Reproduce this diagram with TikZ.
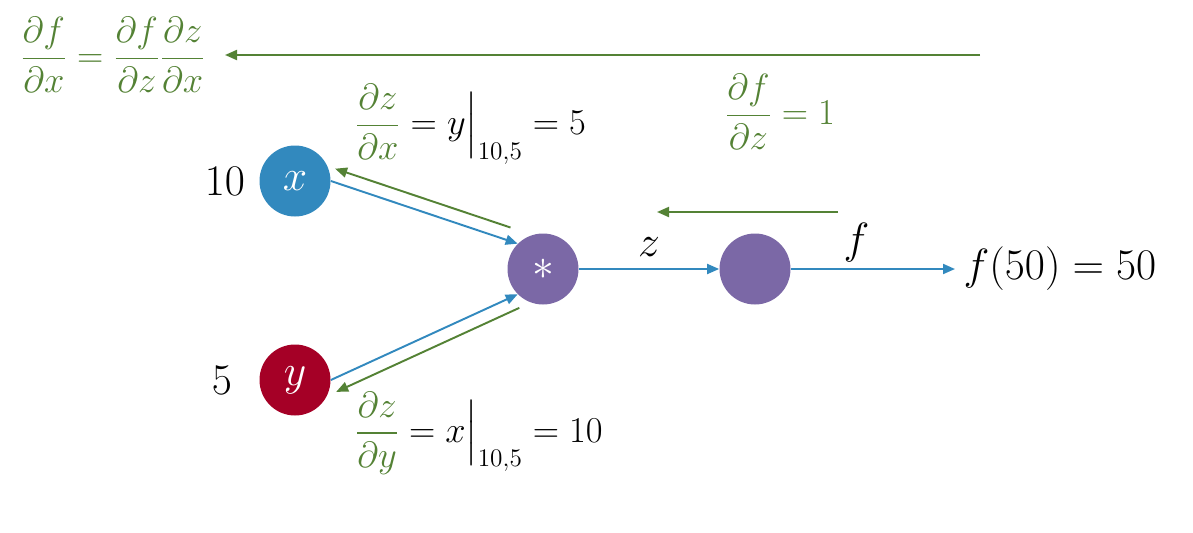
\documentclass[tikz,border=0pt]{standalone}
\usepackage{amsmath}
\usetikzlibrary{arrows.meta,positioning}
\definecolor{xblue}{RGB}{50,137,190}
\definecolor{opviolet}{RGB}{123,104,166}
\definecolor{yred}{RGB}{165,0,38}
\definecolor{gradgreen}{RGB}{84,130,53}
\tikzset{
  var/.style={circle, minimum size=1.42cm, inner sep=0pt, text=white},
  fwd/.style={xblue, line width=1.1pt, -{Triangle[length=0.24cm,width=0.2cm]}},
  bwd/.style={gradgreen, line width=1.1pt, -{Triangle[length=0.24cm,width=0.2cm]}},
  lbl/.style={text=black},
  grad/.style={font=\fontsize{22}{26}\selectfont},
}

\begin{document}
\begin{tikzpicture}[font=\fontsize{24}{28}\selectfont, line join=round]
\useasboundingbox (0,0) rectangle (23.86,10.64);
% graph nodes
\node[var, fill=xblue] (x) at (5.9,7.02) {$x$};
\node[var, fill=yred] (y) at (5.9,3.04) {$y$};
\node[var, fill=opviolet] (mul) at (10.86,5.26) {$*$};
\node[var, fill=opviolet] (f) at (15.1,5.26) {};
\coordinate (out) at (19.1,5.26);
\node[left=0.16cm of x] (xval) {$10$};
\node[left=0.42cm of y] (yval) {$5$};
\node[right=0.05cm of out] (res) {$f(50)=50$};

% forward pass
\draw[fwd] (x.east) -- (mul.north west);
\draw[fwd] (y.east) -- (mul.south west);
\draw[fwd] (mul) -- (f) node[lbl, midway, above=3pt]{$z$};
\draw[fwd] (f) -- (out) node[lbl, pos=0.4, above=0pt]{$f$};

% backward pass
\draw[bwd, shorten <=0.24cm] ([shift={(0.085,0.246)}]mul.north west) -- ([shift={(0.085,0.246)}]x.east);
\draw[bwd, shorten <=0.08cm] ([shift={(0.106,-0.237)}]mul.south west) -- ([shift={(0.106,-0.237)}]y.east);
\coordinate (fstart) at (16.76,6.4);
\coordinate (fend) at (13.14,6.4);
\draw[bwd] (fstart) -- (fend);

% gradients
\node[grad, gradgreen, anchor=base] (chain) at (2.26,9.29) {$\dfrac{\partial f}{\partial x}=\dfrac{\partial f}{\partial z}\dfrac{\partial z}{\partial x}$};
\coordinate (gstart) at (19.6,9.54);
\coordinate (gend) at (4.5,9.54);
\draw[bwd] (gstart) -- (gend);
\node[grad, anchor=base west] (dzdx) at (6.98,7.95) {${\color{gradgreen}\dfrac{\partial z}{\partial x}}=y\Big|_{10,5}=5$};
\node[grad, anchor=base west] (dzdy) at (6.98,1.80) {${\color{gradgreen}\dfrac{\partial z}{\partial y}}=x\Big|_{10,5}=10$};
\node[grad, gradgreen, anchor=base west] (dfdz) at (14.38,8.15) {$\dfrac{\partial f}{\partial z}=1$};
\end{tikzpicture}
\end{document}
